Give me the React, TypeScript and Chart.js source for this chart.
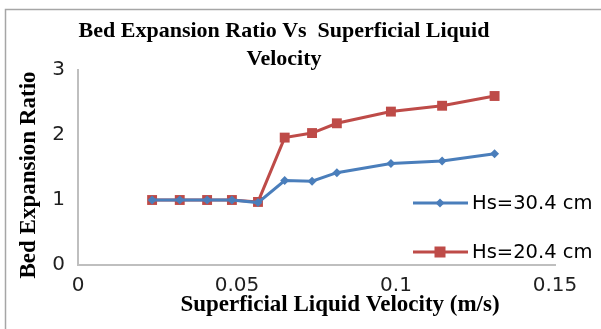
import React, { useEffect, useRef } from "react";
import { Chart, registerables } from "chart.js";

Chart.register(...registerables);

const velocity = [0.0233, 0.032, 0.0406, 0.0484, 0.0566, 0.065, 0.0736, 0.0814, 0.0984, 0.1145, 0.131];
const hs304 = [1.0, 1.0, 1.0, 1.0, 0.96, 1.3, 1.29, 1.42, 1.56, 1.6, 1.71];
const hs204 = [1.0, 1.0, 1.0, 1.0, 0.97, 1.96, 2.03, 2.18, 2.36, 2.45, 2.6];
const seriesLabels = ["Hs=30.4 cm", "Hs=20.4 cm"];
const titleLines = ["Bed Expansion Ratio Vs  Superficial Liquid", "Velocity"];
const xTitle = "Superficial Liquid Velocity (m/s)";
const yTitle = "Bed Expansion Ratio";

const BLUE = "#4a7ebb";
const RED = "#be4b48";

const decorPlugin = {
  id: "decor",
  beforeDraw(chart: any) {
    const ctx = chart.ctx;
    ctx.save();
    ctx.fillStyle = "#ffffff";
    ctx.fillRect(0, 0, chart.width, chart.height);
    ctx.strokeStyle = "#a6a6a6";
    ctx.lineWidth = 1.5;
    ctx.beginPath();
    ctx.moveTo(5.5, chart.height);
    ctx.lineTo(5.5, 9.5);
    ctx.lineTo(chart.width, 9.5);
    ctx.stroke();
    ctx.restore();
  },
  afterDraw(chart: any) {
    const ctx = chart.ctx;
    ctx.save();
    // title
    ctx.fillStyle = "#000000";
    ctx.textAlign = "center";
    ctx.textBaseline = "alphabetic";
    ctx.font = "bold 22px 'Liberation Serif'";
    ctx.fillText(titleLines[0], 284, 37);
    ctx.fillText(titleLines[1], 284, 65);
    // axis titles
    ctx.font = "bold 23px 'Liberation Serif'";
    ctx.textBaseline = "alphabetic";
    ctx.fillText(xTitle, 340, 311);
    ctx.translate(35, 175);
    ctx.rotate(-Math.PI / 2);
    ctx.fillText(yTitle, 0, 0);
    ctx.restore();

    // legend
    ctx.save();
    const items = chart.data.datasets;
    const ys = [203, 252];
    items.forEach((ds: any, i: number) => {
      const y = ys[i];
      ctx.strokeStyle = ds.borderColor;
      ctx.lineWidth = 3;
      ctx.beginPath();
      ctx.moveTo(413, y);
      ctx.lineTo(468, y);
      ctx.stroke();
      ctx.fillStyle = ds.backgroundColor;
      if (ds.pointStyle === "rectRot") {
        ctx.beginPath();
        ctx.moveTo(440, y - 4.5);
        ctx.lineTo(444.5, y);
        ctx.lineTo(440, y + 4.5);
        ctx.lineTo(435.5, y);
        ctx.closePath();
        ctx.fill();
      } else {
        ctx.fillRect(434.5, y - 5.5, 11, 11);
      }
      ctx.fillStyle = "#000000";
      ctx.font = "19.5px 'DejaVu Sans'";
      ctx.textAlign = "left";
      ctx.textBaseline = "middle";
      ctx.fillText(ds.label, 472, y + 1);
    });
    ctx.restore();
  },
};

export default function App() {
  const ref = useRef<HTMLCanvasElement | null>(null);
  useEffect(() => {
    document.body.style.margin = "0";
    const canvas = ref.current!;
    const chart = new Chart(canvas, {
      type: "line",
      data: {
        datasets: [
          {
            label: seriesLabels[0],
            data: velocity.map((v, i) => ({ x: v, y: hs304[i] })),
            borderColor: BLUE,
            backgroundColor: BLUE,
            borderWidth: 3,
            pointStyle: "rectRot",
            pointRadius: 4.5,
            pointBorderWidth: 0,
            tension: 0,
          },
          {
            label: seriesLabels[1],
            data: velocity.map((v, i) => ({ x: v, y: hs204[i] })),
            borderColor: RED,
            backgroundColor: RED,
            borderWidth: 3,
            pointStyle: "rect",
            pointRadius: 7,
            pointBorderWidth: 0,
            tension: 0,
          },
        ],
      },
      options: {
        responsive: false,
        animation: false,
        layout: { padding: { top: 70, right: 46, left: 0, bottom: 0 } },
        plugins: { legend: { display: false }, title: { display: false }, tooltip: { enabled: false } },
        scales: {
          x: {
            type: "linear",
            min: 0,
            max: 0.15,
            ticks: {
              stepSize: 0.05,
              color: "#1f1f1f",
              font: { family: "DejaVu Sans", size: 20 },
              padding: 9,
              callback: (v: any) => String(Number(v.toFixed(2))),
            },
            grid: { display: false, drawTicks: false },
            border: { color: "#bfbfbf", width: 2 },
            afterFit: (s: any) => {
              s.height = 64;
            },
          },
          y: {
            min: 0,
            max: 3,
            ticks: {
              stepSize: 1,
              color: "#1f1f1f",
              font: { family: "DejaVu Sans", size: 20 },
              padding: 13,
            },
            grid: { display: false, drawTicks: false },
            border: { color: "#bfbfbf", width: 2 },
            afterFit: (s: any) => {
              s.width = 78;
            },
          },
        },
      },
      plugins: [decorPlugin],
    });
    return () => chart.destroy();
  }, []);
  return <canvas ref={ref} width={601} height={329} style={{ display: "block" }} />;
}
